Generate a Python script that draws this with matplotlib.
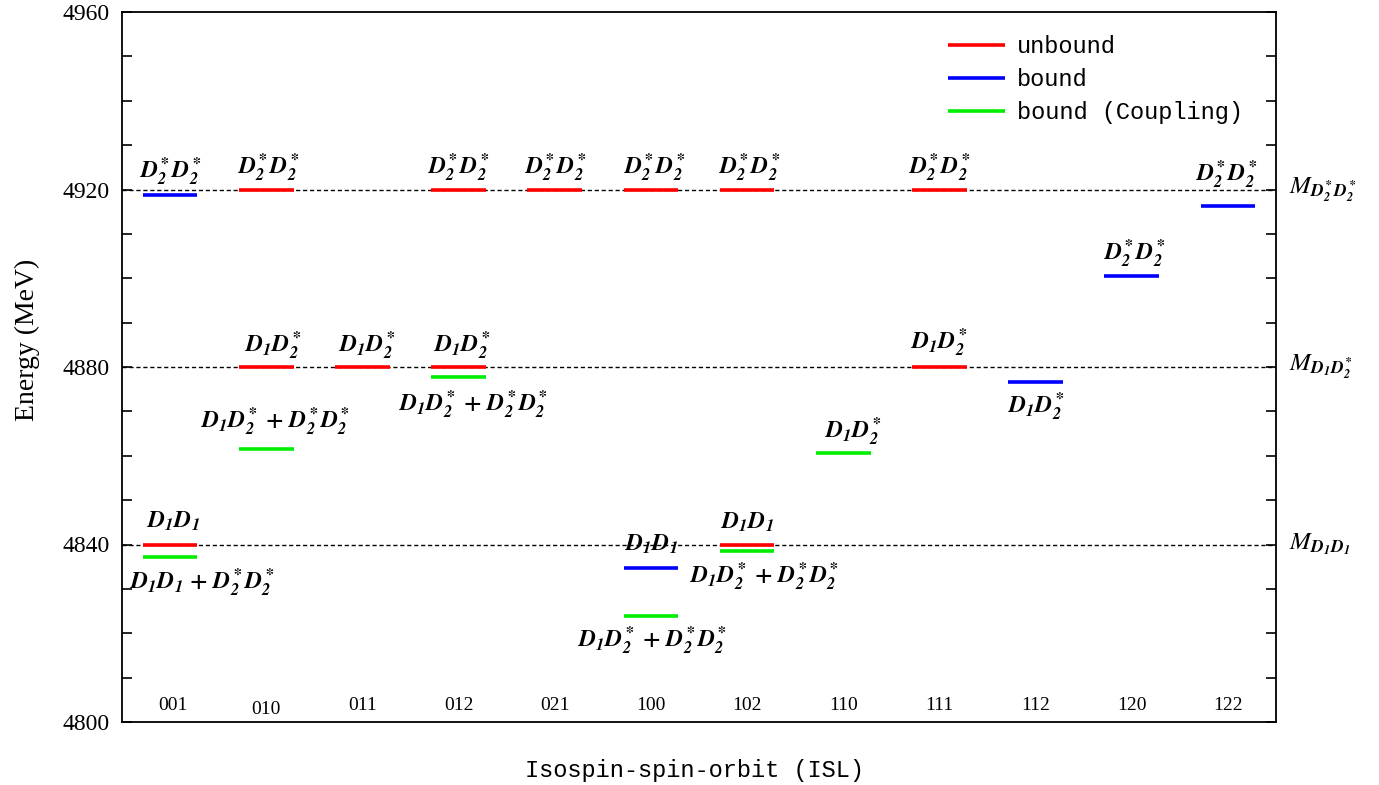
import matplotlib
matplotlib.use("Agg")
import matplotlib.pyplot as plt
import matplotlib.transforms as mtransforms

plt.rcParams['mathtext.fontset'] = 'stix'
plt.rcParams['font.family'] = ['Liberation Serif', 'DejaVu Serif']

# ---- data ----
isl_labels = ["001", "010", "011", "012", "021", "100", "102", "110", "111", "112", "120", "122"]
thresholds = [4920, 4880, 4840]
threshold_labels = [r"$M_{\mathbfit{D_2^*D_2^*}}$", r"$M_{\mathbfit{D_1D_2^*}}$", r"$M_{\mathbfit{D_1D_1}}$"]

# unbound states (isl index, energy)
unbound_isl = [0, 1, 1, 2, 3, 3, 4, 5, 6, 6, 8, 8]
unbound_E = [4840, 4920, 4880, 4880, 4920, 4880, 4920, 4920, 4920, 4840, 4920, 4880]
unbound_txt = ["D1D1", "D2D2", "D1D2", "D1D2", "D2D2", "D1D2", "D2D2", "D2D2", "D2D2", "D1D1", "D2D2", "D1D2"]

# bound states
bound_isl = [0, 5, 9, 10, 11]
bound_E = [4918.8, 4834.7, 4876.6, 4900.5, 4916.3]
bound_txt = ["D2D2", "D1D1", "D1D2", "D2D2", "D2D2"]

# bound states with coupling
coup_isl = [0, 1, 3, 5, 6, 7]
coup_E = [4837.2, 4861.5, 4877.7, 4823.9, 4838.5, 4860.6]
coup_txt = ["D1D1+D2D2", "D1D2+D2D2", "D1D2+D2D2", "D1D2+D2D2", "D1D2+D2D2", "D1D2"]

# label offsets in pixels (dx, dy) relative to each level
unbound_off = [(3, 23), (2, 22), (7, 21), (5, 21), (0, 22), (3, 21), (1, 22), (3, 22), (2, 22), (0, 22), (0, 22), (0, 24)]
bound_off = [(0, 23), (0, 24), (0, -25), (3, 22), (-2, 31)]
coup_off = [(32, -26), (9, 27), (14, -28), (1, -25), (17, -26), (10, 21)]

tex = {
    "D1D1": r"$\mathbfit{D_1D_1}$",
    "D2D2": r"$\mathbfit{D_2^*D_2^*}$",
    "D1D2": r"$\mathbfit{D_1D_2^*}$",
    "D1D1+D2D2": r"$\mathbfit{D_1D_1}\ \mathbf{+}\ \mathbfit{D_2^*D_2^*}$",
    "D1D2+D2D2": r"$\mathbfit{D_1D_2^*}\ \mathbf{+}\ \mathbfit{D_2^*D_2^*}$",
}

fig = plt.figure(figsize=(13.79, 7.85), dpi=100)
ax = fig.add_axes([122/1379, 1-722/785, (1276-122)/1379, (722-12)/785])
ax.set_xlim(-0.5, len(isl_labels) - 0.5)
ax.set_ylim(4800, 4960)

for E in thresholds:
    ax.axhline(E, color='black', lw=1.0, ls=(0, (3, 2)), zorder=1)

hw = 0.285
def draw(isls, Es, txts, offs, color, label):
    first = True
    for i, E, t, (dx, dy) in zip(isls, Es, txts, offs):
        ax.hlines(E, i - hw, i + hw, color=color, lw=2.6, zorder=3,
                  label=label if first else None)
        first = False
        ax.annotate(tex[t], xy=(i, E), xytext=(dx, dy), textcoords='offset pixels',
                    ha='center', va='center', fontsize=17, zorder=4)

draw(unbound_isl, unbound_E, unbound_txt, unbound_off, 'red', 'unbound')
draw(bound_isl, bound_E, bound_txt, bound_off, 'blue', 'bound')
draw(coup_isl, coup_E, coup_txt, coup_off, '#00ee00', 'bound (Coupling)')

for i, lab in enumerate(isl_labels):
    ax.annotate(lab, xy=(i, 4800), xytext=(3 if i == 0 else 0, 16 if i != 1 else 12),
                textcoords='offset pixels', ha='center', va='center', fontsize=14)

trans = mtransforms.blended_transform_factory(ax.transAxes, ax.transData)
for E, lab in zip(thresholds, threshold_labels):
    ax.text(1.011, E, lab, transform=trans, ha='left', va='center', fontsize=18)

ax.set_yticks(range(4800, 4961, 40))
ax.set_yticks(range(4800, 4961, 10), minor=True)
ax.set_xticks([])
ax.tick_params(axis='y', which='both', direction='in', left=True, right=True,
               length=7, width=1.2, labelsize=17, labelfontfamily='Liberation Serif', pad=9)
for s in ax.spines.values():
    s.set_linewidth(1.3)

ax.set_ylabel("Energy (MeV)", fontsize=20)
ax.yaxis.set_label_coords(-0.071, 0.538)
fig.text((523+866)/2/1379, 1-771/785, "Isospin-spin-orbit (ISL)", ha='center', va='center',
         fontsize=17, family='Liberation Mono')

leg = ax.legend(loc='upper right', bbox_to_anchor=(1142/1154, 0.997), frameon=False,
                prop={'family': 'Liberation Mono', 'size': 17}, handlelength=2.4,
                labelspacing=0.42, handletextpad=0.5)

fig.savefig("out.png", dpi=100)
